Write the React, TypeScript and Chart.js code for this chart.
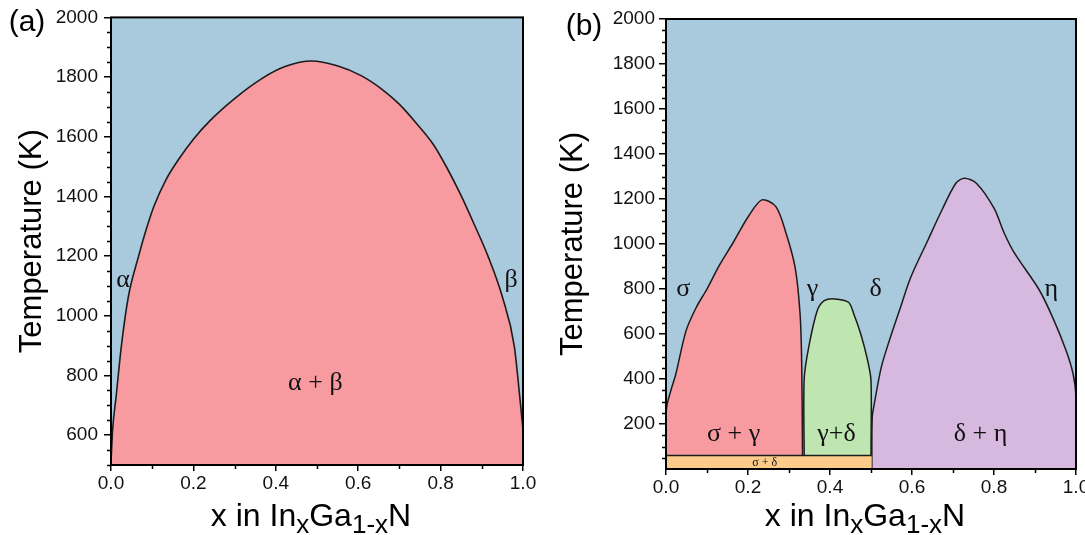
import React, { useEffect, useRef } from 'react';
import { Chart, registerables } from 'chart.js';

Chart.register(...registerables);

// ---------- axes ----------
const xTickValues = [0, 0.2, 0.4, 0.6, 0.8, 1.0];
const xMinorTickValues = [0.1, 0.3, 0.5, 0.7, 0.9];
const tempTicksA = [600, 800, 1000, 1200, 1400, 1600, 1800, 2000];
const tempTicksB = [200, 400, 600, 800, 1000, 1200, 1400, 1600, 1800, 2000];
const tempMinorStep = 50;

// ---------- panel (a): InGaN miscibility gap ----------
const domeX = [0, 0.004, 0.0125, 0.025, 0.042, 0.067, 0.083, 0.104, 0.133, 0.166, 0.2, 0.241, 0.3, 0.366, 0.424, 0.487, 0.549, 0.607, 0.657, 0.699, 0.74, 0.782, 0.815, 0.849, 0.882, 0.915, 0.95, 0.979, 0.992, 1.0];
const domeT = [508, 619, 730, 897, 1063, 1200, 1278, 1366, 1455, 1528, 1592, 1655, 1728, 1795, 1836, 1854, 1838, 1805, 1760, 1710, 1647, 1575, 1497, 1405, 1305, 1200, 1063, 897, 730, 619];

const labelsA = ['α', 'β', 'α + β'];
const labelsAX = [0.029, 0.971, 0.496];
const labelsAT = [1097, 1097, 752];

// ---------- panel (b): ordered phases ----------
const sigmaGammaX = [0, 0.003, 0.012, 0.024, 0.049, 0.074, 0.1, 0.13, 0.165, 0.2, 0.234, 0.268, 0.293, 0.315, 0.327, 0.331, 0.333];
const sigmaGammaT = [250, 290, 350, 422, 615, 719, 800, 905, 1010, 1120, 1196, 1166, 1047, 895, 689, 467, 60];

const gammaDeltaX = [0.337, 0.337, 0.348, 0.369, 0.386, 0.411, 0.445, 0.458, 0.475, 0.492, 0.5, 0.5];
const gammaDeltaT = [60, 400, 541, 704, 748, 756, 741, 689, 600, 481, 393, 60];

const deltaEtaX = [0.502, 0.503, 0.508, 0.525, 0.546, 0.572, 0.597, 0.639, 0.673, 0.707, 0.728, 0.757, 0.8, 0.825, 0.85, 0.909, 0.943, 0.976, 0.993, 1.0, 1.0];
const deltaEtaT = [0, 230, 289, 452, 578, 719, 852, 1018, 1151, 1270, 1292, 1270, 1159, 1048, 959, 800, 674, 526, 422, 319, 0];

const sigmaDeltaX = [0, 0.502];
const sigmaDeltaT = [60, 60];

const labelsB = ['σ', 'γ', 'δ', 'η', 'σ + γ', 'γ+δ', 'δ + η'];
const labelsBX = [0.042, 0.357, 0.511, 0.94, 0.165, 0.416, 0.767];
const labelsBT = [770, 770, 770, 770, 125, 125, 125];
const smallLabelB = 'σ + δ';
const smallLabelBX = 0.241;
const smallLabelBT = 14;

// ---------- styles ----------
const BLUE = '#A9C9DD';
const PINK = '#F79BA1';
const GREEN = '#BFE6B1';
const PURPLE = '#D7B9DF';
const ORANGE = '#FDCB8A';
const LINE = '#1c1c1c';
const SANS = '"Liberation Sans", Arial, Helvetica, sans-serif';
const SERIF = '"Liberation Serif", "Times New Roman", serif';

const zip = (xs: number[], ys: number[]) => xs.map((x, i) => ({ x, y: ys[i] }));

type DecorCfg = {
  panel: string;
  panelX: number;
  panelY: number;
  yTitleX: number;
  labels: string[];
  labelsX: number[];
  labelsT: number[];
  small?: { text: string; x: number; t: number };
};

function decorPlugin(cfg: DecorCfg) {
  return {
    id: 'decor',
    beforeDraw(chart: any) {
      const { ctx, chartArea: a } = chart;
      ctx.save();
      ctx.fillStyle = BLUE;
      ctx.fillRect(a.left, a.top, a.right - a.left, a.bottom - a.top);
      ctx.restore();
    },
    afterDraw(chart: any) {
      const { ctx, chartArea: a, scales } = chart;
      const xs = scales.x;
      const ys = scales.y;
      ctx.save();
      // minor ticks
      ctx.strokeStyle = '#000';
      ctx.lineWidth = 1.5;
      ctx.beginPath();
      for (const v of xMinorTickValues) {
        const px = Math.round(xs.getPixelForValue(v)) + 0.5;
        ctx.moveTo(px, a.bottom);
        ctx.lineTo(px, a.bottom + 4);
      }
      for (let t = ys.min; t <= ys.max; t += tempMinorStep) {
        if (t % 200 === 0) continue;
        const py = Math.round(ys.getPixelForValue(t)) + 0.5;
        ctx.moveTo(a.left - 4, py);
        ctx.lineTo(a.left, py);
      }
      ctx.stroke();
      // frame
      ctx.lineWidth = 2;
      ctx.strokeStyle = '#000';
      ctx.strokeRect(a.left, a.top, a.right - a.left, a.bottom - a.top);

      // phase labels
      ctx.fillStyle = '#111';
      ctx.textAlign = 'center';
      ctx.textBaseline = 'alphabetic';
      ctx.font = `26px ${SERIF}`;
      cfg.labels.forEach((txt, i) => {
        ctx.fillText(txt, xs.getPixelForValue(cfg.labelsX[i]), ys.getPixelForValue(cfg.labelsT[i]));
      });
      if (cfg.small) {
        ctx.font = `12px ${SERIF}`;
        ctx.fillText(cfg.small.text, xs.getPixelForValue(cfg.small.x), ys.getPixelForValue(cfg.small.t));
      }

      // y title
      ctx.save();
      ctx.translate(cfg.yTitleX, (a.top + a.bottom) / 2);
      ctx.rotate(-Math.PI / 2);
      ctx.font = `31px ${SANS}`;
      ctx.textAlign = 'center';
      ctx.textBaseline = 'middle';
      ctx.fillStyle = '#000';
      ctx.fillText('Temperature (K)', 0, 0);
      ctx.restore();

      // x title with subscripts
      const parts = [
        { t: 'x in In', sub: false },
        { t: 'x', sub: true },
        { t: 'Ga', sub: false },
        { t: '1-x', sub: true },
        { t: 'N', sub: false },
      ];
      const mainFont = `32px ${SANS}`;
      const subFont = `26px ${SANS}`;
      let total = 0;
      for (const p of parts) {
        ctx.font = p.sub ? subFont : mainFont;
        total += ctx.measureText(p.t).width;
      }
      let cx = (a.left + a.right) / 2 - 6 - total / 2;
      const base = 526;
      ctx.textAlign = 'left';
      ctx.textBaseline = 'alphabetic';
      ctx.fillStyle = '#000';
      for (const p of parts) {
        ctx.font = p.sub ? subFont : mainFont;
        ctx.fillText(p.t, cx, p.sub ? base + 7 : base);
        cx += ctx.measureText(p.t).width;
      }

      // panel letter
      ctx.font = `30px ${SANS}`;
      ctx.textAlign = 'center';
      ctx.textBaseline = 'middle';
      ctx.fillText(cfg.panel, cfg.panelX, cfg.panelY);
      ctx.restore();
    },
  };
}

function scalesFor(yMin: number, yTicks: number[], yWidth: number, xHeight: number, yPad: number) {
  return {
    x: {
      type: 'linear',
      min: 0,
      max: 1,
      afterBuildTicks: (s: any) => {
        s.ticks = xTickValues.map((v) => ({ value: v }));
      },
      afterFit: (s: any) => {
        s.height = xHeight;
      },
      ticks: {
        autoSkip: false,
        maxRotation: 0,
        padding: 1,
        color: '#111',
        font: { family: SANS, size: 19 },
        callback: (v: any) => Number(v).toFixed(1),
      },
      grid: { drawOnChartArea: false, drawTicks: true, tickLength: 6, color: '#000', lineWidth: 1.5 },
      border: { display: false },
    },
    y: {
      type: 'linear',
      min: yMin,
      max: 2000,
      afterBuildTicks: (s: any) => {
        s.ticks = yTicks.map((v) => ({ value: v }));
      },
      afterFit: (s: any) => {
        s.width = yWidth;
      },
      ticks: {
        autoSkip: false,
        padding: yPad,
        color: '#111',
        font: { family: SANS, size: 19 },
        callback: (v: any) => String(v),
      },
      grid: { drawOnChartArea: false, drawTicks: true, tickLength: 7, color: '#000', lineWidth: 1.5 },
      border: { display: false },
    },
  };
}

const baseOptions = {
  animation: false,
  responsive: false,
  maintainAspectRatio: false,
  devicePixelRatio: 1,
  events: [],
  plugins: { legend: { display: false }, tooltip: { enabled: false } },
};

function configA(): any {
  return {
    type: 'line',
    data: {
      datasets: [
        {
          data: zip(domeX, domeT),
          borderColor: LINE,
          borderWidth: 1.6,
          backgroundColor: PINK,
          fill: 'start',
          pointRadius: 0,
          cubicInterpolationMode: 'monotone',
        },
      ],
    },
    options: {
      ...baseOptions,
      layout: { padding: { left: 0, top: 15, right: 22, bottom: 0 } },
      scales: scalesFor(500, tempTicksA, 111, 70, 6),
    },
    plugins: [
      decorPlugin({
        panel: '(a)',
        panelX: 27,
        panelY: 23,
        yTitleX: 32,
        labels: labelsA,
        labelsX: labelsAX,
        labelsT: labelsAT,
      }),
    ],
  };
}

function region(xs: number[], ts: number[], color: string, tension: number) {
  return {
    data: zip(xs, ts),
    borderColor: LINE,
    borderWidth: 1.5,
    backgroundColor: color,
    fill: 'start',
    pointRadius: 0,
    tension,
  };
}

function configB(): any {
  return {
    type: 'line',
    data: {
      datasets: [
        region(sigmaDeltaX, sigmaDeltaT, ORANGE, 0),
        region(sigmaGammaX, sigmaGammaT, PINK, 0.3),
        region(gammaDeltaX, gammaDeltaT, GREEN, 0.3),
        region(deltaEtaX, deltaEtaT, PURPLE, 0.3),
      ],
    },
    options: {
      ...baseOptions,
      layout: { padding: { left: 0, top: 19, right: 29, bottom: 0 } },
      scales: scalesFor(0, tempTicksB, 121, 66, 4),
    },
    plugins: [
      decorPlugin({
        panel: '(b)',
        panelX: 39,
        panelY: 27,
        yTitleX: 28,
        labels: labelsB,
        labelsX: labelsBX,
        labelsT: labelsBT,
        small: { text: smallLabelB, x: smallLabelBX, t: smallLabelBT },
      }),
    ],
  };
}

function Panel({ left, width, build }: { left: number; width: number; build: () => any }) {
  const ref = useRef<HTMLCanvasElement>(null);
  useEffect(() => {
    const chart = new Chart(ref.current as HTMLCanvasElement, build());
    return () => chart.destroy();
  }, []);
  return (
    <canvas
      ref={ref}
      width={width}
      height={535}
      style={{ position: 'absolute', left, top: 0, width, height: 535, display: 'block' }}
    />
  );
}

export default function App() {
  return (
    <div
      style={{
        position: 'absolute',
        left: 0,
        top: 0,
        width: 1085,
        height: 535,
        overflow: 'hidden',
        background: '#fff',
      }}
    >
      <Panel left={0} width={545} build={configA} />
      <Panel left={545} width={560} build={configB} />
    </div>
  );
}
